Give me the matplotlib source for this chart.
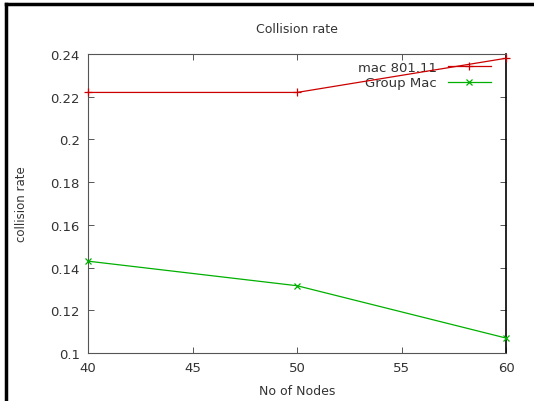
import numpy as np
import matplotlib.pyplot as plt
from matplotlib.lines import Line2D

# Data
nodes      = [40, 50, 60]
mac80211   = [0.222, 0.222, 0.238]
group_mac  = [0.143, 0.1315, 0.107]
xticks     = [40, 45, 50, 55, 60]
yticks     = [0.1, 0.12, 0.14, 0.16, 0.18, 0.2, 0.22, 0.24]
ytick_lbls = ['0.1', '0.12', '0.14', '0.16', '0.18', '0.2', '0.22', '0.24']

plt.rcParams['font.family'] = 'DejaVu Sans'
fig = plt.figure(figsize=(5.34, 4.02), dpi=100)
ax = fig.add_axes([0.1648, 0.1194, 0.7828, 0.7438])

ax.plot(nodes, mac80211, color='#cc0000', lw=0.9, marker='+', ms=6, mew=0.9,
        label='mac 801.11', zorder=3, clip_on=False)
ax.plot(nodes, group_mac, color='#00b000', lw=0.9, marker='x', ms=4, mew=0.9,
        label='Group Mac', zorder=3, clip_on=False)

ax.set_xlim(40, 60)
ax.set_ylim(0.1, 0.24)
ax.set_xticks(xticks)
ax.set_yticks(yticks)
ax.set_yticklabels(ytick_lbls)
ax.tick_params(direction='in', length=4, width=0.7, color='#555555',
               labelsize=9.5, labelcolor='#333333', top=True, right=True, pad=6)
for side in ['left', 'top', 'bottom']:
    ax.spines[side].set_color('#555555')
    ax.spines[side].set_linewidth(0.8)
ax.spines['right'].set_color('black')
ax.spines['right'].set_linewidth(1.2)

ax.set_title('Collision rate', fontsize=9, color='#333333', pad=16)
ax.set_xlabel('No of Nodes', fontsize=9, color='#333333', labelpad=7)
ax.set_ylabel('collision rate', fontsize=8.5, color='#333333', labelpad=16)

leg = ax.legend(loc='upper right', frameon=False, markerfirst=False, fontsize=9.5,
                handlelength=3.3, borderaxespad=0.1, labelspacing=0.2,
                bbox_to_anchor=(0.98, 1.0))
leg.set_zorder(1)
for t in leg.get_texts():
    t.set_color('#333333')

# black frame on left and top of the screenshot
fig.add_artist(Line2D([0.011, 0.011], [0, 0.988], color='black', lw=2.5))
fig.add_artist(Line2D([0.011, 1], [0.988, 0.988], color='black', lw=2.5))

plt.savefig('out.png', dpi=100)
